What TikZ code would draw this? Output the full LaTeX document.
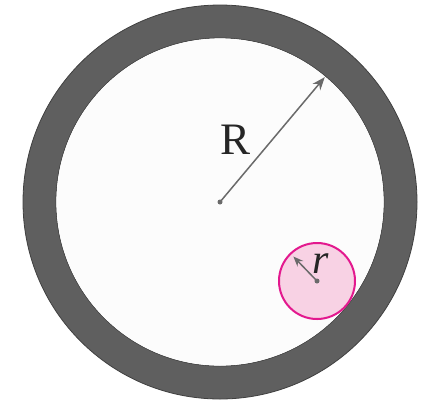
\documentclass[tikz,border=0pt]{standalone}
\usepackage{fontspec}
\setmainfont{Liberation Serif}
\usetikzlibrary{arrows.meta}
\definecolor{ringgray}{HTML}{5F5F5F}
\definecolor{bubblepink}{HTML}{F8D2E4}
\definecolor{bubblemag}{HTML}{E3198E}
\definecolor{arrowgray}{HTML}{6A6A6A}
\begin{document}
\begin{tikzpicture}[x=1pt, y=-1pt,
    ring/.style={draw=black!75, line width=0.8pt, fill=ringgray, even odd rule},
    bore/.style={fill=black!1},
    bubble/.style={circle, draw=bubblemag, line width=2pt, fill=bubblepink, minimum size=76pt, inner sep=0pt},
    dot/.style={circle, fill=arrowgray, inner sep=0pt, minimum size=5pt},
    arrow/.style={-{Stealth[length=13pt, width=10pt]}, draw=arrowgray, line width=1.5pt},
    lbl/.style={inner sep=0pt, text=black!85, font=\fontsize{45}{45}\selectfont}
]
\useasboundingbox (0,0) rectangle (427,400);
% --- pipe wall ---
\coordinate (o) at (220,202);
\path[ring] (o) circle[radius=197] (o) circle[radius=164];
\path[bore] (o) circle[radius=163.6];
% --- particle ---
\node[bubble] (bub) at (317,281) {};
% --- centre points and tips ---
\node[dot] (c0) at (o) {};
\node[dot] (c1) at (bub.center) {};
\path (o) ++(-50:163) coordinate (tipR);
\path (bub.center) ++(-134:34) coordinate (tipr);
% --- radii ---
\draw[arrow] (c0.center) -- (tipR);
\draw[arrow, -{Stealth[length=10pt, width=8pt]}] (c1.center) -- (tipr);
\node[lbl] (labR) at (236,140) {R};
\node[lbl, font=\fontsize{42}{42}\selectfont\itshape] (labr) at (321,264) {r};
\end{tikzpicture}
\end{document}
